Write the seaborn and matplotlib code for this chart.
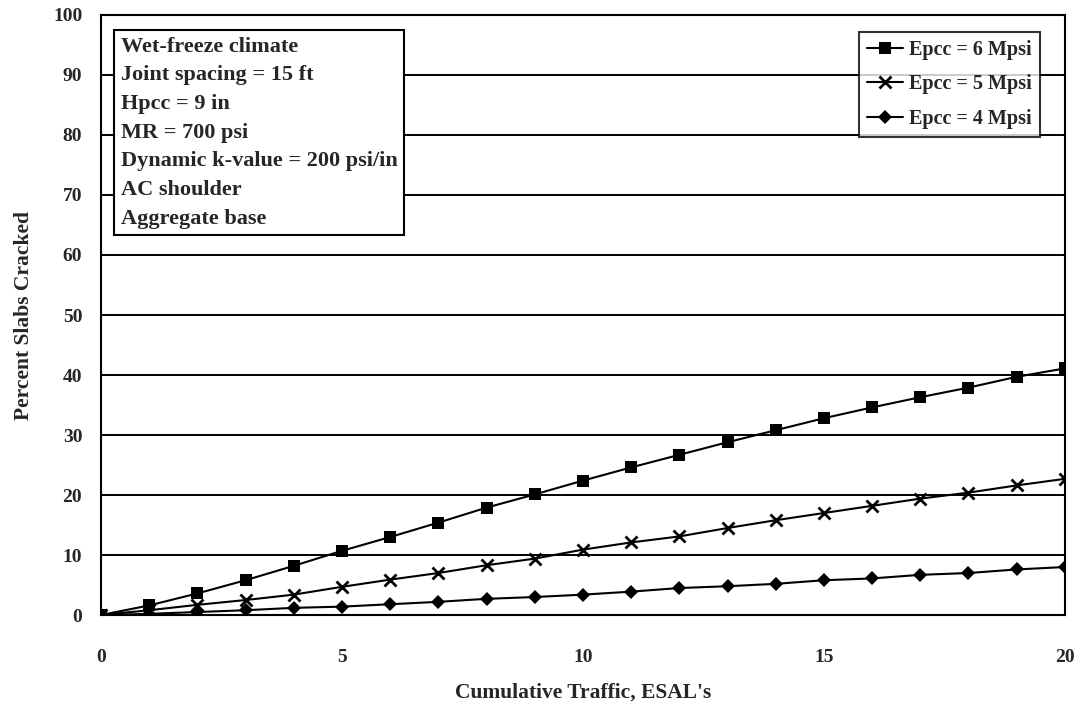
import matplotlib
matplotlib.use("Agg")
import matplotlib.pyplot as plt
import seaborn as sns
import pandas as pd

# Cumulative traffic (ESALs) and percent slabs cracked for three PCC moduli
traffic = list(range(0, 21))
epcc6 = [0, 1.6, 3.6, 5.8, 8.2, 10.7, 13.0, 15.4, 17.9, 20.1, 22.4,
         24.6, 26.7, 28.8, 30.8, 32.8, 34.6, 36.3, 37.9, 39.7, 41.1]
epcc5 = [0, 0.8, 1.7, 2.5, 3.4, 4.7, 5.9, 7.0, 8.3, 9.4, 10.9,
         12.1, 13.1, 14.5, 15.8, 17.0, 18.2, 19.4, 20.4, 21.6, 22.7]
epcc4 = [0, 0.2, 0.5, 0.8, 1.2, 1.4, 1.8, 2.2, 2.7, 3.0, 3.4,
         3.9, 4.5, 4.8, 5.2, 5.8, 6.1, 6.7, 7.0, 7.6, 8.0]
series_names = ["Epcc = 6 Mpsi", "Epcc = 5 Mpsi", "Epcc = 4 Mpsi"]
x_ticks = [0, 5, 10, 15, 20]
y_ticks = list(range(0, 101, 10))
x_label = "Cumulative Traffic, ESAL's"
y_label = "Percent Slabs Cracked"
notes = ["Wet-freeze climate", "Joint spacing = 15 ft", "Hpcc = 9 in",
         "MR = 700 psi", "Dynamic k-value = 200 psi/in", "AC shoulder",
         "Aggregate base"]

df = pd.concat([
    pd.DataFrame({"traffic": traffic, "cracked": vals, "series": name})
    for name, vals in zip(series_names, [epcc6, epcc5, epcc4])
])

sns.set_theme(style="white")
plt.rcParams["font.family"] = ["Liberation Serif", "DejaVu Serif"]
plt.rcParams["font.weight"] = "bold"

fig = plt.figure(figsize=(10.8, 7.13), dpi=100)
ax = fig.add_axes([0.0935, 0.1374, 0.8925, 0.8416])

style_kw = {
    series_names[0]: dict(marker="s", markersize=9, markeredgewidth=0),
    series_names[1]: dict(marker="x", markersize=9, markeredgewidth=2),
    series_names[2]: dict(marker="D", markersize=7, markeredgewidth=0),
}
for name in series_names:
    sub = df[df["series"] == name]
    sns.lineplot(data=sub, x="traffic", y="cracked", ax=ax, color="black",
                 linewidth=1.5, label=name, markeredgecolor="black",
                 markerfacecolor="black", zorder=3, **style_kw[name])

ax.set_xlim(0, 20)
ax.set_ylim(0, 100)
ax.set_xticks(x_ticks)
ax.set_yticks(y_ticks)
ax.yaxis.grid(True, color="black", linewidth=1.4)
ax.xaxis.grid(False)
for s in ax.spines.values():
    s.set_color("black")
    s.set_linewidth(1.5)
ax.tick_params(axis="both", which="major", direction="out", length=4.5,
               width=1.3, color="black", labelsize=14)
ax.tick_params(axis="x", pad=20)
ax.tick_params(axis="y", pad=9)
for lbl in ax.get_xticklabels() + ax.get_yticklabels():
    lbl.set_fontweight("bold")

ax.set_xlabel(x_label, fontsize=15.5, fontweight="bold", labelpad=12)
ax.set_ylabel(y_label, fontsize=15.5, fontweight="bold", labelpad=14)

ax.text(0.0205, 0.964, "\n".join(notes), transform=ax.transAxes,
        ha="left", va="top", fontsize=16, fontweight="bold",
        linespacing=1.58, zorder=5,
        bbox=dict(boxstyle="square,pad=0.3", facecolor="white",
                  edgecolor="black", linewidth=1.5))

leg = ax.legend(loc="upper right", bbox_to_anchor=(0.974, 0.972),
                frameon=True, fancybox=False, fontsize=14.5,
                handlelength=1.8, handletextpad=0.3, borderpad=0.4,
                labelspacing=0.72, borderaxespad=0.0)
leg.get_frame().set_edgecolor("black")
leg.get_frame().set_linewidth(1.5)
for t in leg.get_texts():
    t.set_fontweight("bold")

fig.savefig("out.png", dpi=100, facecolor="white")
